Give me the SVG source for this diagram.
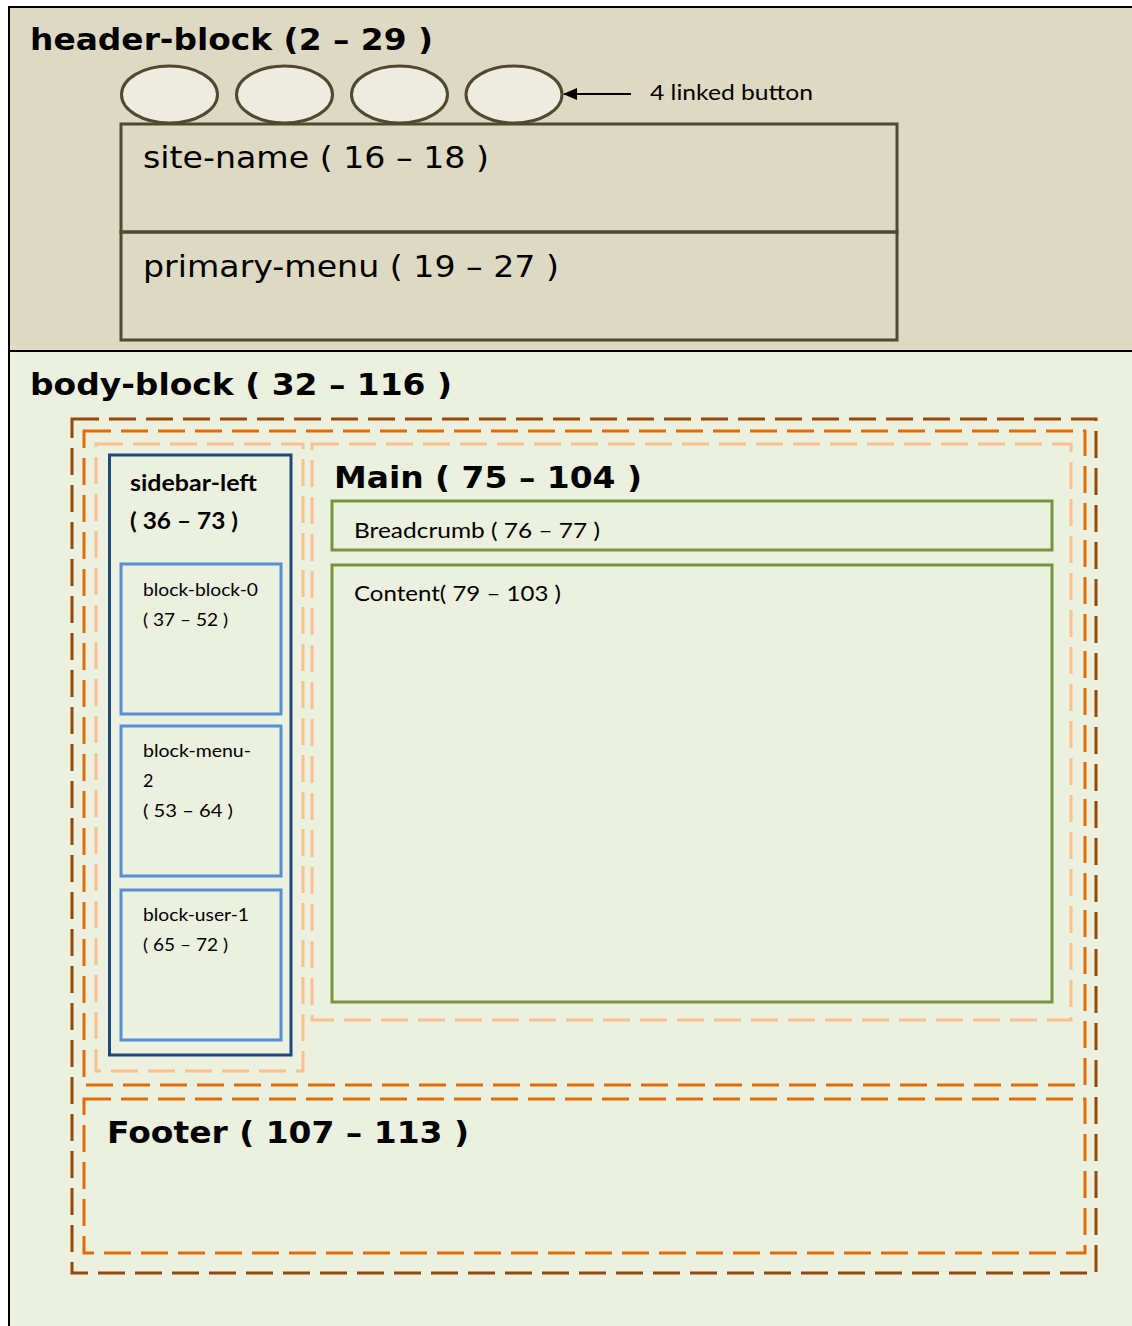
<svg xmlns="http://www.w3.org/2000/svg" width="1132" height="1326" viewBox="0 0 1132 1326">
<defs>
<marker id="arr" markerWidth="14" markerHeight="12" refX="13" refY="6" orient="auto" markerUnits="userSpaceOnUse">
<path d="M0,0 L14,6 L0,12 Z" fill="#000"/>
</marker>
<style>
.v{font-family:"DejaVu Sans",Verdana,sans-serif;fill:#000}
.vb{font-family:"DejaVu Sans",Verdana,sans-serif;font-weight:bold;fill:#000}
.c{font-family:Lato,"Open Sans",sans-serif;fill:#000}
.cb{font-family:Lato,"Open Sans",sans-serif;font-weight:bold;fill:#000}
.hb{fill:#EEECE1;stroke:#4F4A2F;stroke-width:3}
.hr{fill:none;stroke:#4F4A2F;stroke-width:3}
.d1{fill:none;stroke:#984807;stroke-width:3;stroke-dasharray:27 10}
.d2{fill:none;stroke:#E36C09;stroke-width:3;stroke-dasharray:27 10}
.d3{fill:none;stroke:#FAC090;stroke-width:3;stroke-dasharray:27 10}
.sb{fill:none;stroke:#1F497D;stroke-width:3}
.bl{fill:none;stroke:#558ED5;stroke-width:3}
.gr{fill:none;stroke:#77933C;stroke-width:3}
</style>
</defs>
<rect x="0" y="0" width="1132" height="1326" fill="#fff"/>
<g id="header-block">
<rect x="9" y="7" width="1130" height="344" fill="#DDD9C3"/>
<line x1="9" y1="7" x2="1132" y2="7" stroke="#000" stroke-width="2"/>
<text class="vb" x="30" y="50" font-size="31" textLength="403" lengthAdjust="spacingAndGlyphs">header-block (2 – 29 )</text>
</g>
<g id="body-block">
<rect x="9" y="351" width="1130" height="980" fill="#EBF1DE"/>
<line x1="9" y1="351" x2="1132" y2="351" stroke="#000" stroke-width="2"/>
<text class="vb" x="30" y="395" font-size="31" textLength="422" lengthAdjust="spacingAndGlyphs">body-block ( 32 – 116 )</text>
</g>
<line x1="9" y1="6" x2="9" y2="1326" stroke="#000" stroke-width="2"/>
<g id="button-1"><ellipse class="hb" cx="169.5" cy="94.5" rx="48" ry="28.5"/></g>
<g id="button-2"><ellipse class="hb" cx="284.5" cy="94.5" rx="48" ry="28.5"/></g>
<g id="button-3"><ellipse class="hb" cx="399.5" cy="94.5" rx="48" ry="28.5"/></g>
<g id="button-4"><ellipse class="hb" cx="514" cy="94.5" rx="48" ry="28.5"/></g>
<g id="label-buttons"><text class="c" x="650" y="100" font-size="22" textLength="163" lengthAdjust="spacingAndGlyphs">4 linked button</text></g>
<g id="site-name">
<rect class="hr" x="121" y="124" width="776" height="108"/>
<text class="v" x="143" y="168" font-size="30" textLength="346" lengthAdjust="spacingAndGlyphs">site-name ( 16 – 18 )</text>
</g>
<g id="primary-menu">
<rect class="hr" x="121" y="232" width="776" height="108"/>
<text class="v" x="143" y="277" font-size="30" textLength="416" lengthAdjust="spacingAndGlyphs">primary-menu ( 19 – 27 )</text>
</g>
<g id="wrapper-outer"><rect class="d1" x="72" y="419" width="1024" height="854"/></g>
<g id="wrapper-inner"><rect class="d2" x="84" y="431" width="1001" height="654"/></g>
<g id="sidebar-wrap"><rect class="d3" x="96" y="444" width="207" height="627"/></g>
<g id="main">
<rect class="d3" x="312" y="444" width="759" height="576"/>
<text class="vb" x="334" y="488" font-size="31" textLength="308" lengthAdjust="spacingAndGlyphs">Main ( 75 – 104 )</text>
</g>
<g id="sidebar-left">
<rect class="sb" x="109.5" y="455" width="181.5" height="600"/>
<text class="cb" x="130" y="491" font-size="22" textLength="127" lengthAdjust="spacingAndGlyphs">sidebar-left</text>
<text class="cb" x="130" y="529" font-size="22" textLength="108" lengthAdjust="spacingAndGlyphs">( 36 – 73 )</text>
</g>
<g id="block-block-0">
<rect class="bl" x="121" y="564" width="160" height="150"/>
<text class="c" x="143" y="596" font-size="18" textLength="115" lengthAdjust="spacingAndGlyphs">block-block-0</text>
<text class="c" x="143" y="626" font-size="18" textLength="85" lengthAdjust="spacingAndGlyphs">( 37 – 52 )</text>
</g>
<g id="block-menu-2">
<rect class="bl" x="121" y="726" width="160" height="150"/>
<text class="c" x="143" y="757" font-size="18" textLength="108" lengthAdjust="spacingAndGlyphs">block-menu-</text>
<text class="c" x="143" y="787" font-size="18">2</text>
<text class="c" x="143" y="817" font-size="18" textLength="90" lengthAdjust="spacingAndGlyphs">(  53 – 64 )</text>
</g>
<g id="block-user-1">
<rect class="bl" x="121" y="890" width="160" height="150"/>
<text class="c" x="143" y="921" font-size="18" textLength="106" lengthAdjust="spacingAndGlyphs">block-user-1</text>
<text class="c" x="143" y="951" font-size="18" textLength="85" lengthAdjust="spacingAndGlyphs">( 65 – 72 )</text>
</g>
<g id="breadcrumb">
<rect class="gr" x="332" y="501" width="720" height="49"/>
<text class="c" x="354" y="538" font-size="22" textLength="246" lengthAdjust="spacingAndGlyphs">Breadcrumb ( 76 – 77 )</text>
</g>
<g id="content">
<rect class="gr" x="332" y="565" width="720" height="437"/>
<text class="c" x="354" y="601" font-size="22" textLength="207" lengthAdjust="spacingAndGlyphs">Content( 79 – 103 )</text>
</g>
<g id="footer">
<rect class="d2" x="84" y="1099" width="1001" height="154"/>
<text class="vb" x="107" y="1143" font-size="31" textLength="362" lengthAdjust="spacingAndGlyphs">Footer ( 107 – 113 )</text>
</g>
<g id="connectors">
<line x1="631" y1="94" x2="564" y2="94" stroke="#000" stroke-width="2" marker-end="url(#arr)"/>
</g>
</svg>
